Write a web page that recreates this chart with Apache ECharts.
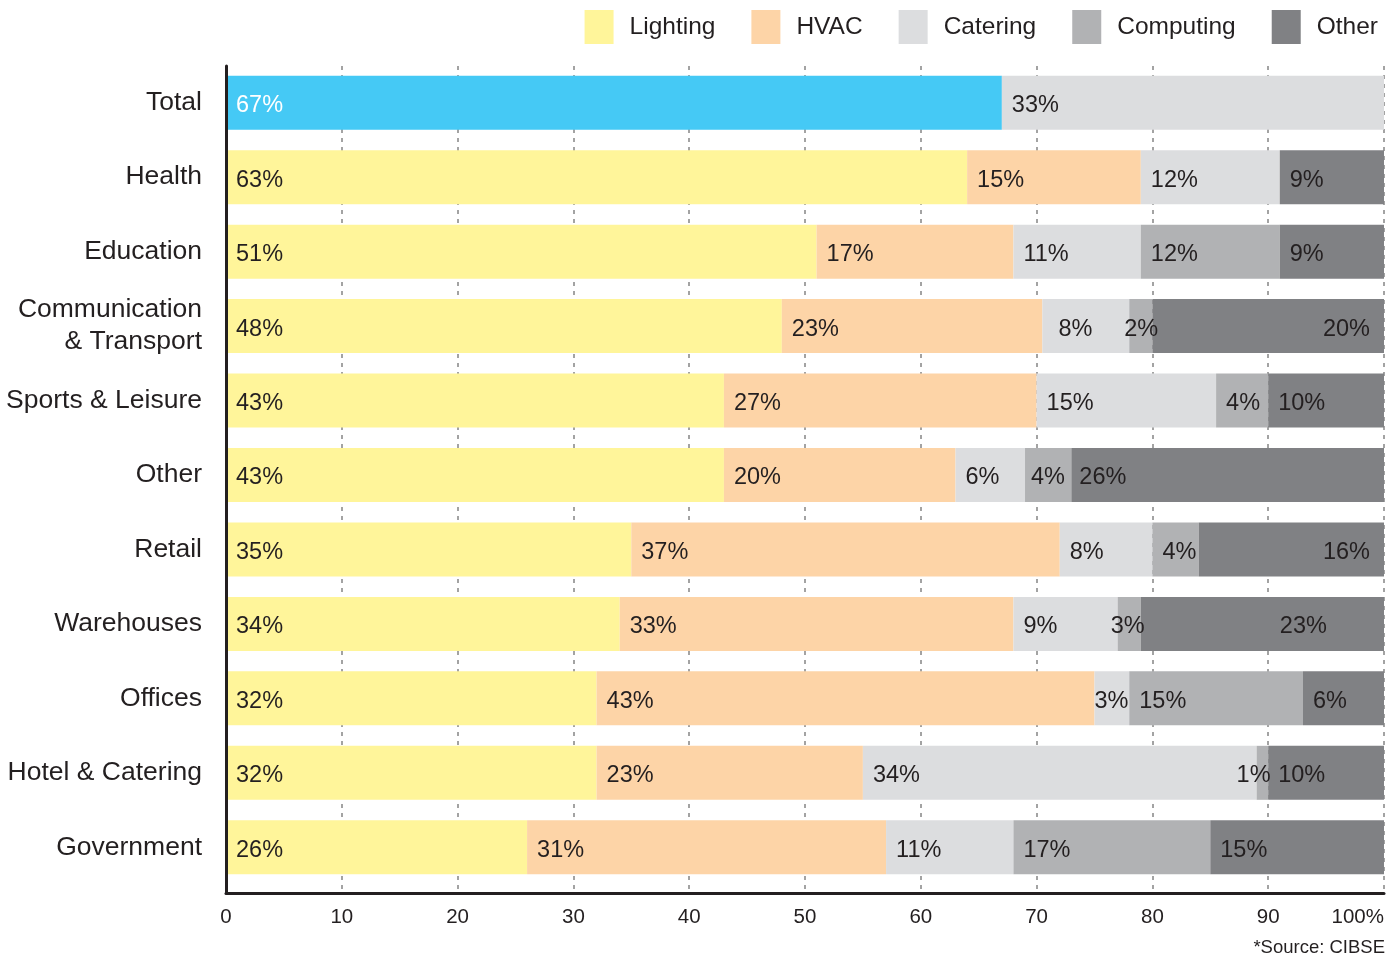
<!DOCTYPE html>
<html>
<head>
<meta charset="utf-8">
<script src="https://cdn.jsdelivr.net/npm/echarts@6/dist/echarts.min.js"></script>
<style>
  html, body { margin: 0; padding: 0; background: #ffffff; }
  #chart { width: 1400px; height: 957px; }
</style>
</head>
<body>
<div id="chart"></div>
<script>
// ---- Data (top to bottom) ----
const categories = ['Total', 'Health', 'Education', 'Communication\n& Transport', 'Sports & Leisure', 'Other', 'Retail', 'Warehouses', 'Offices', 'Hotel & Catering', 'Government'];
const seriesNames = ['Lighting', 'HVAC', 'Catering', 'Computing', 'Other'];

// segment widths (% of total)
const lighting  = [67, 64, 51, 48,   43,   43, 35, 34, 32, 32, 26];
const hvac      = [0,  15, 17, 22.5, 27,   20, 37, 34, 43, 23, 31];
const catering  = [33, 12, 11, 7.5,  15.5, 6,  8,  9,  3,  34, 11];
const computing = [0,  0,  12, 2,    4.5,  4,  4,  2,  15, 1,  17];
const other     = [0,  9,  9,  20,   10,   27, 16, 21, 7,  10, 15];

// printed labels
const lightingLabels  = ['67%', '63%', '51%', '48%', '43%', '43%', '35%', '34%', '32%', '32%', '26%'];
const hvacLabels      = ['', '15%', '17%', '23%', '27%', '20%', '37%', '33%', '43%', '23%', '31%'];
const cateringLabels  = ['33%', '12%', '11%', '8%', '15%', '6%', '8%', '9%', '3%', '34%', '11%'];
const computingLabels = ['', '', '12%', '2%', '4%', '4%', '4%', '3%', '15%', '1%', '17%'];
const otherLabels     = ['', '9%', '9%', '20%', '10%', '26%', '16%', '23%', '6%', '10%', '15%'];

const xTicks = ['0', '10', '20', '30', '40', '50', '60', '70', '80', '90', '100%'];

// ---- Styling ----
const colors = ['#fff59a', '#fdd4a7', '#dcdddf', '#b1b2b4', '#808184'];
const totalColor = '#45c9f5';
const textColor = '#231f20';
const font = '"Liberation Sans", Arial, Helvetica, sans-serif';

// label placement tweaks (style only): horizontal shift / alternative position
const labelTweaks = {
  'Communication\n& Transport|Catering': { dx: 6 },
  'Communication\n& Transport|Computing': { dx: -15 },
  'Communication\n& Transport|Other': { position: 'insideRight', distance: 14 },
  'Retail|Other': { position: 'insideRight', distance: 14 },
  'Warehouses|Computing': { dx: -17 },
  'Warehouses|Other': { dx: 129 },
  'Offices|Catering': { dx: -10 },
  'Hotel & Catering|Computing': { dx: -30 },
  'Other|Computing': { dx: -4 },
  'Other|Other': { dx: -2 }
};
const labelDy = 3;

const values = [lighting, hvac, catering, computing, other];
const labels = [lightingLabels, hvacLabels, cateringLabels, computingLabels, otherLabels];

const series = seriesNames.map((name, si) => ({
  name: name,
  type: 'bar',
  stack: 'total',
  xAxisIndex: 0,
  yAxisIndex: 0,
  barWidth: 54,
  itemStyle: { color: colors[si] },
  label: {
    show: true,
    position: 'insideLeft',
    distance: 10,
    offset: [0, labelDy],
    fontSize: 23.5,
    fontFamily: font,
    color: textColor,
    formatter: (p) => labels[si][p.dataIndex]
  },
  data: values[si].map((v, i) => {
    const item = { value: v };
    const key = categories[i] + '|' + name;
    const t = labelTweaks[key];
    if (t) {
      item.label = { offset: [t.dx || 0, labelDy] };
      if (t.position) { item.label.position = t.position; item.label.distance = t.distance; }
    }
    if (categories[i] === 'Total' && si === 0) {
      item.itemStyle = { color: totalColor };
      item.label = Object.assign({}, item.label || {}, { color: '#ffffff' });
    }
    return item;
  })
}));

const chart = echarts.init(document.getElementById('chart'), null, { renderer: 'canvas' });
chart.setOption({
  animation: false,
  backgroundColor: '#ffffff',
  textStyle: { fontFamily: font },
  title: {
    text: '*Source: CIBSE',
    right: 10,
    top: 933,
    textStyle: { fontSize: 18.5, fontWeight: 'normal', color: textColor, fontFamily: font }
  },
  legend: {
    data: seriesNames,
    right: 17,
    top: 5,
    icon: 'rect',
    itemWidth: 29,
    itemHeight: 34,
    itemGap: 36,
    textStyle: { fontSize: 24.5, color: textColor, fontFamily: font, padding: [0, 0, 0, 11] }
  },
  grid: [
    { left: 226, right: 16, top: 65.5, height: 819, outerBoundsMode: 'none', containLabel: false },
    { left: 226, right: 16, top: 66, bottom: 64, outerBoundsMode: 'none', containLabel: false }
  ],
  xAxis: [
    { gridIndex: 0, type: 'value', min: 0, max: 100, show: false },
    {
      gridIndex: 1, type: 'value', min: 0, max: 100, interval: 10,
      axisLine: { show: true, onZero: false, lineStyle: { color: textColor, width: 3 } },
      axisTick: { show: false },
      splitLine: { show: true, lineStyle: { type: [4, 5], color: '#a3a3a3', width: 2 } },
      axisLabel: {
        fontSize: 20.5, color: textColor, fontFamily: font, margin: 14,
        alignMaxLabel: 'right',
        formatter: (v) => xTicks[Math.round(v / 10)]
      }
    }
  ],
  yAxis: [
    {
      gridIndex: 0, type: 'category', inverse: true, data: categories,
      axisLine: { show: false }, axisTick: { show: false }, splitLine: { show: false },
      axisLabel: { fontSize: 26.5, color: textColor, fontFamily: font, margin: 24, lineHeight: 32, align: 'right', padding: [7, 0, 0, 0] }
    },
    {
      gridIndex: 1, type: 'value', min: 0, max: 1, z: 5,
      axisLine: { show: true, onZero: false, lineStyle: { color: textColor, width: 3 } },
      axisTick: { show: false }, axisLabel: { show: false }, splitLine: { show: false }
    }
  ],
  series: series
});
</script>
</body>
</html>
